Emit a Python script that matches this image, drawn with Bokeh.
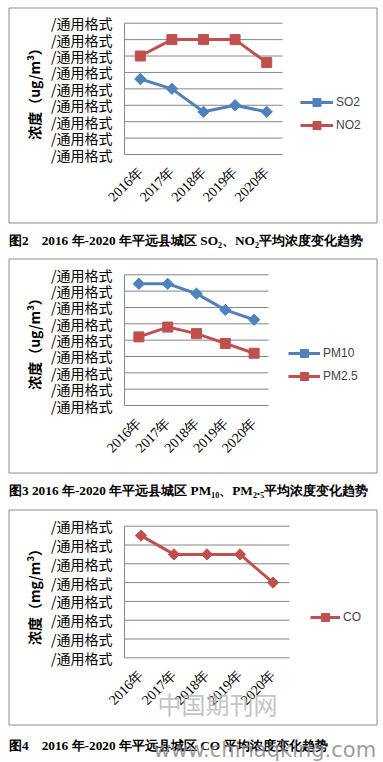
import math
from bokeh.plotting import figure
from bokeh.layouts import column
from bokeh.models import Range1d, Legend, LegendItem
from bokeh.core.properties import value
from bokeh.embed import file_html
from bokeh.resources import INLINE

# ---------------- data ----------------
years = ["2016年", "2017年", "2018年", "2019年", "2020年"]

so2 = [23, 20, 13, 15, 13]
no2 = [30, 35, 35, 35, 28]
pm10 = [74.5, 74.5, 68.5, 58.5, 52.5]
pm25 = [42, 48, 44, 38, 32]
co = [1.3, 1.1, 1.1, 1.1, 0.8]

ticks1 = [0, 5, 10, 15, 20, 25, 30, 35, 40]
ticks2 = [0, 10, 20, 30, 40, 50, 60, 70, 80]
ticks3 = [0, 0.2, 0.4, 0.6, 0.8, 1.0, 1.2, 1.4]
tick_text = "/通用格式"

names1 = ["SO2", "NO2"]
names2 = ["PM10", "PM2.5"]
names3 = ["CO"]

ylabel1 = "浓度（ug/m³）"
ylabel3 = "浓度（mg/m³）"

caption1 = "图2　2016 年-2020 年平远县城区 SO₂、NO₂平均浓度变化趋势"
caption2 = "图3 2016 年-2020 年平远县城区 PM₁₀、PM₂.₅平均浓度变化趋势"
caption3 = "图4　2016 年-2020 年平远县城区 CO 平均浓度变化趋势"

wm1 = "中国期刊网"
wm2 = "www.chinaqking.com"

# ---------------- style ----------------
BLUE = "#4F81BD"
RED = "#C0504D"
GRID = "#868686"
BORDER = "#8c8c8c"
CJK = "Noto Sans CJK SC"
W = 383          # canvas width (page x 0 .. 383)
PAGE_X0 = 0


def panel(top_page, height, grid_box, ticks, ylabel, series, legend_px,
          glyph_w, border_tb, caption, cap_y, ylabel_y):
    gl, gr, gt, gb = grid_box           # plot area in page pixels
    n = len(years)
    ppx = (gr - gl) / n
    ymin, ymax = ticks[0], ticks[-1]
    ppy = (gb - gt) / (ymax - ymin)

    def X(px):
        return (px - gl) / ppx

    def Y(py):
        return ymin + (gb - py) / ppy

    p = figure(width=W, height=height,
               x_range=Range1d(X(PAGE_X0), X(PAGE_X0 + W)),
               y_range=Range1d(Y(top_page + height), Y(top_page)),
               x_axis_type=None, y_axis_type=None,
               output_backend="svg", toolbar_location=None,
               min_border=0)
    p.min_border_left = p.min_border_right = 0
    p.min_border_top = p.min_border_bottom = 0
    p.outline_line_color = None
    p.grid.visible = False
    p.background_fill_color = "white"
    p.border_fill_color = "white"

    xs = [i + 0.5 for i in range(n)]

    # panel border
    p.quad(left=[X(8.5)], right=[X(376.5)],
           top=[Y(border_tb[0])], bottom=[Y(border_tb[1])],
           fill_color=None, line_color=BORDER, line_width=1)

    # grid lines and axis lines
    p.segment(x0=[0] * len(ticks), x1=[n] * len(ticks), y0=ticks, y1=ticks,
              line_color=GRID, line_width=1)
    p.segment(x0=[0], x1=[0], y0=[ymin], y1=[ymax],
              line_color=GRID, line_width=1)

    # y tick labels
    p.text(x=[X(112)] * len(ticks), y=ticks, text=[tick_text] * len(ticks),
           text_align="right", text_baseline="middle",
           text_font=value(CJK), text_font_size="14px", text_color="black")

    # x tick labels (rotated)
    p.text(x=xs, y=[Y(gb + 15)] * n, text=years, angle=math.pi / 4,
           text_align="right", text_baseline="middle",
           text_font=value("Liberation Serif"), text_font_size="14px",
           text_color="black")

    # axis title
    p.text(x=[X(33)], y=[Y(ylabel_y)], text=[ylabel], angle=math.pi / 2,
           text_align="center", text_baseline="middle",
           text_font=value(CJK), text_font_style="bold",
           text_font_size="14px", text_color="black")

    # series
    items = []
    for name, vals, color, marker, size, angle in series:
        ln = p.line(xs, vals, line_color=color, line_width=3)
        mk = p.scatter(xs, vals, marker=marker, size=size, angle=angle,
                       fill_color=color, line_color=color)
        items.append(LegendItem(label=name, renderers=[ln, mk]))

    # caption
    p.text(x=[X(8.5)], y=[Y(cap_y)], text=[caption],
           text_align="left", text_baseline="middle",
           text_font=value("Liberation Serif"), text_font_style="bold",
           text_font_size="13.3px", text_color="black")

    # legend (screen px from the canvas' bottom-left corner)
    lx, ltop, lh = legend_px
    leg = Legend(items=items,
                 location=(lx - PAGE_X0, top_page + height - (ltop + lh)),
                 padding=0, margin=0, spacing=3, glyph_width=glyph_w,
                 glyph_height=20, label_standoff=3, border_line_color=None,
                 background_fill_alpha=0,
                 label_text_font="Liberation Sans",
                 label_text_font_size="12px")
    p.add_layout(leg)
    return p, X, Y


p1, X1, Y1 = panel(0, 250, (124, 282, 22.7, 154), ticks1, ylabel1,
                   [(names1[0], so2, BLUE, "square", 8, math.pi / 4),
                    (names1[1], no2, RED, "square", 10, 0)],
                   (300, 92.3, 43), 33, (7.5, 222.5), caption1, 239.5, 90)

p2, X2, Y2 = panel(250, 250, (124, 268, 274.3, 405), ticks2, ylabel1,
                   [(names2[0], pm10, BLUE, "square", 8, math.pi / 4),
                    (names2[1], pm25, RED, "square", 10, 0)],
                   (288, 343.3, 43), 32, (258.5, 472.5), caption2, 490, 340)

p3, X3, Y3 = panel(500, 262, (124, 289, 525.7, 657.3), ticks3, ylabel3,
                   [(names3[0], co, RED, "square", 8, math.pi / 4)],
                   (310, 606.7, 20), 30, (509.5, 724.5), caption3, 745, 593)

# watermark on the last panel
p3.text(x=[X3(157)], y=[Y3(703)], text=[wm1], text_align="left",
        text_baseline="middle", text_font=value(CJK), text_font_size="24px",
        text_color="#b4b4b4", text_alpha=0.8)
p3.text(x=[X3(153)], y=[Y3(749)], text=[wm2], text_align="left",
        text_baseline="middle", text_font=value("DejaVu Sans"),
        text_font_size="21px", text_color="#8c8c8c", text_alpha=0.85)

layout = column(p1, p2, p3, spacing=0)

with open("out.html", "w") as f:
    f.write(file_html(layout, INLINE))
